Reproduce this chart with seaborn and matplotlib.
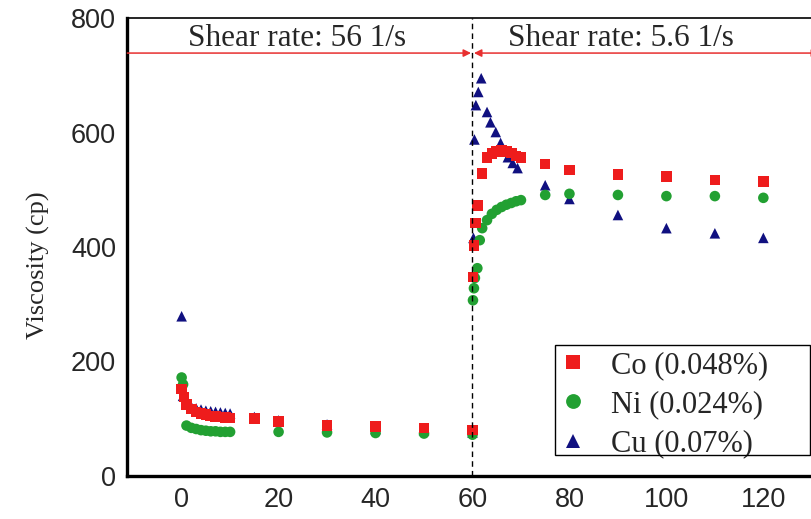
import matplotlib
matplotlib.use("Agg")
import matplotlib.pyplot as plt
from matplotlib.patches import Rectangle
import seaborn as sns
import pandas as pd

# ---- data ----
co_x = [0, 0.5, 1, 2, 3, 4, 5, 6, 7, 8, 9, 10, 15, 20, 30, 40, 50, 60,
        60.1, 60.3, 60.6, 61, 62, 63, 64, 65, 66, 67, 68, 69, 70, 75, 80, 90, 100, 110, 120]
co_y = [152, 138, 125, 117, 112, 109, 107, 105, 104, 103, 102, 101, 100, 95, 88, 86, 84, 80,
        348, 403, 442, 473, 529, 556, 563, 567, 569, 567, 564, 559, 556, 545, 535, 527, 523, 517, 515]

ni_x = [0, 0.3, 1, 2, 3, 4, 5, 6, 7, 8, 9, 10, 20, 30, 40, 50, 60,
        60.1, 60.3, 60.5, 61, 61.5, 62, 63, 64, 65, 66, 67, 68, 69, 70, 75, 80, 90, 100, 110, 120]
ni_y = [172, 160, 88, 84, 82, 80, 79, 78, 78, 77, 77, 77, 77, 76, 75, 74, 72,
        307, 328, 346, 363, 412, 433, 447, 458, 465, 470, 474, 477, 480, 482, 491, 493, 491, 489, 489, 486]

cu_x = [0, 0.3, 1, 2, 3, 4, 5, 6, 7, 8, 9, 10, 15, 20, 30, 40, 50, 60,
        60.2, 60.4, 60.7, 61.2, 61.8, 63, 63.7, 64.8, 65.8, 67.3, 68.3, 69.3, 75, 80, 90, 100, 110, 120]
cu_y = [279, 140, 126, 121, 118, 116, 114, 113, 112, 111, 110, 109, 103, 97, 90, 82, 80, 76,
        416, 588, 648, 671, 695, 636, 618, 601, 582, 557, 547, 538, 508, 484, 456, 433, 424, 416]

series_names = ["Co (0.048%)", "Ni (0.024%)", "Cu (0.07%)"]
colors = ["#ee1c1c", "#22a032", "#101080"]
marker_shapes = ["s", "o", "^"]
x_ticks = [0, 20, 40, 60, 80, 100, 120]
y_ticks = [0, 200, 400, 600, 800]
region_labels = ["Shear rate: 56 1/s", "Shear rate: 5.6 1/s"]
switch_time = 60

# draw Cu first, then Ni, then Co on top
df = pd.concat([
    pd.DataFrame({"t": cu_x, "v": cu_y, "s": series_names[2]}),
    pd.DataFrame({"t": ni_x, "v": ni_y, "s": series_names[1]}),
    pd.DataFrame({"t": co_x, "v": co_y, "s": series_names[0]}),
], ignore_index=True)

sns.set_style("white")
fig = plt.figure(figsize=(8.11, 5.19), dpi=100)
ax = fig.add_axes([0.157, 0.083, 0.85, 0.882])

sns.scatterplot(data=df, x="t", y="v", hue="s", style="s",
                hue_order=series_names, style_order=series_names,
                palette=dict(zip(series_names, colors)),
                markers=dict(zip(series_names, marker_shapes)),
                s=58, linewidth=0, ax=ax, legend=True)

ax.set_xlim(-11.2, 131)
ax.set_ylim(0, 800)
ax.set_xticks(x_ticks)
ax.set_xticks(list(range(-10, 131, 10)), minor=True)
ax.set_yticks(y_ticks)
ax.tick_params(axis="x", which="major", direction="in", length=6, width=1.5, pad=8)
ax.tick_params(axis="x", which="minor", direction="in", length=4, width=1)
ax.tick_params(axis="y", which="major", direction="in", length=0, pad=8)
for lab in ax.get_xticklabels() + ax.get_yticklabels():
    lab.set_fontfamily("Liberation Sans")
    lab.set_fontsize(19.5)

ax.set_xlabel("")
ax.set_ylabel("Viscosity (cp)", fontfamily="Liberation Serif", fontsize=19)
ax.yaxis.set_label_coords(-0.112, 0.46)

for side in ["left", "bottom"]:
    ax.spines[side].set_linewidth(2.4)
    ax.spines[side].set_color("black")
ax.spines["top"].set_linewidth(1.2)
ax.spines["top"].set_color("black")
ax.spines["right"].set_visible(False)

ax.axvline(switch_time, color="black", linestyle=(0, (4, 3)), linewidth=1)

arrow_y = 739
ax.annotate("", xy=(switch_time - 0.3, arrow_y), xytext=(-11.2, arrow_y),
            arrowprops=dict(arrowstyle="-|>", color="#e83030", lw=1.1, mutation_scale=11,
                            shrinkA=0, shrinkB=0))
ax.annotate("", xy=(131.5, arrow_y), xytext=(switch_time + 0.3, arrow_y),
            arrowprops=dict(arrowstyle="<|-|>", color="#e83030", lw=1.1, mutation_scale=11,
                            shrinkA=0, shrinkB=0), annotation_clip=False)
ax.text(23.9, 765, region_labels[0], fontfamily="Liberation Serif", fontsize=22.5,
        ha="center", va="center")
ax.text(90.7, 765, region_labels[1], fontfamily="Liberation Serif", fontsize=22.5,
        ha="center", va="center")

# legend: frameless entries plus a separate frame box
leg = ax.legend(loc="upper left", bbox_to_anchor=(0.684, 0.3295),
                bbox_transform=fig.transFigure, frameon=False,
                prop={"family": "Liberation Serif", "size": 22},
                handletextpad=0.75, borderpad=0.1, labelspacing=0.33, markerscale=1.4,
                handlelength=1.0, borderaxespad=0)
fig.patches.append(Rectangle((555 / 811, 1 - 455 / 519), 255 / 811, 110 / 519,
                             transform=fig.transFigure, fill=False,
                             edgecolor="black", linewidth=1.0, zorder=5))

fig.savefig("out.png", dpi=100)
